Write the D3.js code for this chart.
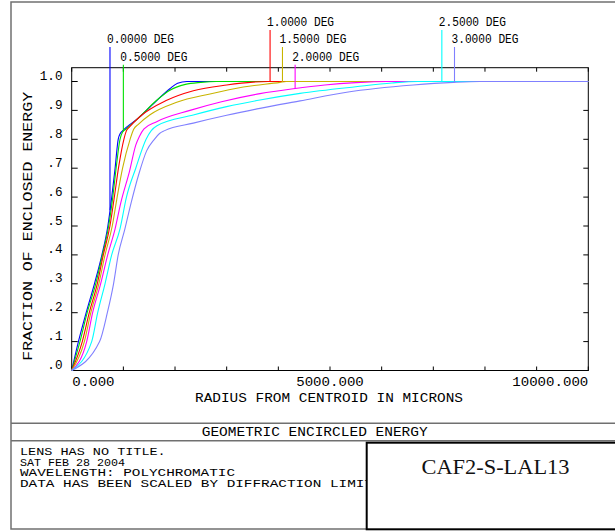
<!DOCTYPE html>
<html>
<head>
<meta charset="utf-8">
<script src="https://cdn.jsdelivr.net/npm/d3@7"></script>
<style>
  html, body { margin: 0; padding: 0; background: #fff; }
  svg { display: block; }
  .mono { font-family: "Liberation Mono", "DejaVu Sans Mono", monospace; fill: #000; }
</style>
</head>
<body>
<div id="chart"></div>
<script>

// field angles and their colours
const fieldNames = ["0.0000 DEG", "0.5000 DEG", "1.0000 DEG", "1.5000 DEG", "2.0000 DEG", "2.5000 DEG", "3.0000 DEG"];
const fieldColors = ["#0000ff", "#00e000", "#ff0000", "#c8b400", "#ff00ff", "#00ffff", "#8080ff"];

// [radius in microns, fraction of enclosed energy]
const deg00 = [[0,0],[130,0.1],[280,0.2],[440,0.3],[585,0.4],[700,0.5],[775,0.6],[840,0.7],[900,0.8],[940,0.82],[990,0.83],[1300,0.875],[1650,0.935],[1900,0.975],[2050,0.994],[2230,1.0],[10000,1.0]];
const deg05 = [[0,0],[160,0.1],[300,0.2],[465,0.3],[595,0.4],[715,0.5],[795,0.6],[860,0.7],[935,0.8],[985,0.825],[1050,0.835],[1300,0.875],[1645,0.935],[1900,0.97],[2200,0.99],[2500,0.997],[2800,1.0],[10000,1.0]];
const deg10 = [[0,0],[205,0.1],[340,0.2],[495,0.3],[612,0.4],[740,0.5],[825,0.6],[905,0.7],[1010,0.8],[1060,0.83],[1120,0.843],[1317,0.878],[1840,0.935],[2355,0.968],[3000,0.988],[3510,0.998],[3800,1.0],[10000,1.0]];
const deg15 = [[0,0],[245,0.1],[370,0.2],[525,0.3],[645,0.4],[785,0.5],[880,0.6],[985,0.7],[1130,0.8],[1200,0.835],[1290,0.852],[1516,0.885],[2033,0.928],[2677,0.957],[3322,0.981],[4032,0.997],[4150,1.0],[10000,1.0]];
const deg20 = [[0,0],[290,0.1],[405,0.2],[560,0.3],[697,0.4],[840,0.49],[950,0.58],[1120,0.69],[1240,0.78],[1310,0.81],[1400,0.836],[1645,0.861],[2290,0.9],[2900,0.93],[3645,0.958],[4290,0.975],[4900,0.988],[5500,0.996],[6100,1.0],[10000,1.0]];
const deg25 = [[0,0],[387,0.1],[503,0.2],[645,0.3],[774,0.4],[935,0.49],[1060,0.6],[1240,0.7],[1440,0.8],[1540,0.83],[1650,0.847],[2354,0.884],[3000,0.913],[3645,0.936],[4420,0.959],[5500,0.982],[6200,0.995],[6700,1.0],[10000,1.0]];
const deg30 = [[0,0],[540,0.1],[690,0.2],[810,0.3],[900,0.4],[1030,0.49],[1150,0.58],[1300,0.68],[1450,0.76],[1600,0.8],[1700,0.82],[1800,0.83],[2354,0.856],[3000,0.883],[3645,0.907],[4420,0.933],[5323,0.963],[6613,0.988],[7387,0.997],[7900,1.0],[10000,1.0]];
const curves = [deg00, deg05, deg10, deg15, deg20, deg25, deg30];

// where each label leader touches its curve, and which label row it sits in
const leaderRadius = [741, 1000, 3840, 4080, 4325, 7165, 7410];
const labelRow = [1, 2, 0, 1, 2, 0, 1];

const yTickValues = [1.0, 0.9, 0.8, 0.7, 0.6, 0.5, 0.4, 0.3, 0.2, 0.1, 0.0];
const yTickLabels = ["1.0", ".9", ".8", ".7", ".6", ".5", ".4", ".3", ".2", ".1", ".0"];
const xTickValues = [0, 1000, 2000, 3000, 4000, 5000, 6000, 7000, 8000, 9000, 10000];
const xLabelValues = [0, 5000, 10000];
const xLabelText = ["0.000", "5000.000", "10000.000"];

const infoLines = ["LENS HAS NO TITLE.", "SAT FEB 28 2004", "WAVELENGTH: POLYCHROMATIC", "DATA HAS BEEN SCALED BY DIFFRACTION LIMIT"];
const infoWidths = [145.7, 105, 215, 353];


const width = 615, height = 531;
const plot = { left: 71.7, right: 588.3, top: 67.7, bottom: 370.5 };

const x = d3.scaleLinear().domain([0, 10000]).range([plot.left, plot.right]);
const y = d3.scaleLinear().domain([0, 1]).range([plot.bottom, 81.5]);

const svg = d3.select("#chart")
  .append("svg")
  .attr("width", width)
  .attr("height", height)
  .attr("viewBox", `0 0 ${width} ${height}`);

function addText(str, tx, ty, len, anchor, size) {
  return svg.append("text")
    .attr("class", "mono")
    .attr("x", tx)
    .attr("y", ty)
    .attr("text-anchor", anchor)
    .attr("font-size", size)
    .attr("textLength", len)
    .attr("lengthAdjust", "spacingAndGlyphs")
    .text(str);
}

// linear lookup of a curve at a given radius
function valueAt(points, r) {
  for (let i = 1; i < points.length; i++) {
    if (r <= points[i][0]) {
      const a = points[i - 1], b = points[i];
      return a[1] + (b[1] - a[1]) * (r - a[0]) / (b[0] - a[0]);
    }
  }
  return points[points.length - 1][1];
}

// outer page frame
svg.append("path")
  .attr("d", `M ${width + 2} 2 H 11 V 529 H ${width + 2}`)
  .attr("fill", "none")
  .attr("stroke", "#707070")
  .attr("stroke-width", 1.5);
svg.append("line")
  .attr("x1", 11).attr("x2", width + 2)
  .attr("y1", 423.3).attr("y2", 423.3)
  .attr("stroke", "#707070").attr("stroke-width", 1.5);
svg.append("line")
  .attr("x1", 11).attr("x2", width + 2)
  .attr("y1", 440.7).attr("y2", 440.7)
  .attr("stroke", "#707070").attr("stroke-width", 1.5);

// plot frame
svg.append("rect")
  .attr("x", plot.left)
  .attr("y", plot.top)
  .attr("width", plot.right - plot.left)
  .attr("height", plot.bottom - plot.top)
  .attr("fill", "none")
  .attr("stroke", "black")
  .attr("stroke-width", 1);

// ticks on all four sides
svg.selectAll(".ytick-l")
  .data(yTickValues)
  .join("line")
  .attr("x1", plot.left).attr("x2", plot.left + 6)
  .attr("y1", d => y(d)).attr("y2", d => y(d))
  .attr("stroke", "black");
svg.selectAll(".ytick-r")
  .data(yTickValues)
  .join("line")
  .attr("x1", plot.right - 5).attr("x2", plot.right)
  .attr("y1", d => y(d)).attr("y2", d => y(d))
  .attr("stroke", "black");
svg.selectAll(".xtick-b")
  .data(xTickValues)
  .join("line")
  .attr("x1", d => x(d)).attr("x2", d => x(d))
  .attr("y1", plot.bottom - 4).attr("y2", plot.bottom)
  .attr("stroke", "black");
svg.selectAll(".xtick-t")
  .data(xTickValues)
  .join("line")
  .attr("x1", d => x(d)).attr("x2", d => x(d))
  .attr("y1", plot.top).attr("y2", plot.top + 4)
  .attr("stroke", "black");

// y tick labels
yTickValues.forEach((v, i) => {
  addText(yTickLabels[i], 62.5, y(v) - 1.5, yTickLabels[i].length * 7.6, "end", 13.5);
});

// x tick labels
const xAnchors = ["start", "middle", "end"];
xLabelValues.forEach((v, i) => {
  addText(xLabelText[i], x(v) + (i === 0 ? 0.6 : 0), 386, xLabelText[i].length * 8.45, xAnchors[i], 12.5);
});

// axis titles
addText("RADIUS FROM CENTROID IN MICRONS", 329, 401.7, 268, "middle", 12.5);
addText("FRACTION OF ENCLOSED ENERGY", 0, 0, 269, "middle", 13.5)
  .attr("transform", "translate(31.5,226.3) rotate(-90)");

// curves
const line = d3.line()
  .x(d => x(d[0]))
  .y(d => y(d[1]))
  .curve(d3.curveMonotoneX);

curves.forEach((c, i) => {
  svg.append("path")
    .attr("d", line(c))
    .attr("fill", "none")
    .attr("stroke", fieldColors[i])
    .attr("stroke-width", 1.1);
});

// field labels with leaders
const rowBaseline = [26, 43, 60.7];
curves.forEach((c, i) => {
  const lx = x(leaderRadius[i]);
  const base = rowBaseline[labelRow[i]];
  svg.append("line")
    .attr("x1", lx).attr("x2", lx)
    .attr("y1", base + 4)
    .attr("y2", y(valueAt(c, leaderRadius[i])))
    .attr("stroke", fieldColors[i])
    .attr("stroke-width", 1.1);
  addText(fieldNames[i], lx - 3, base, 67, "start", 12);
});

// bottom title and info block
addText("GEOMETRIC ENCIRCLED ENERGY", 314.7, 436, 226, "middle", 12);
infoLines.forEach((t, i) => {
  addText(t, 20, 455 + i * 10.55, infoWidths[i], "start", 10.5);
});

// lens name box
svg.append("rect")
  .attr("x", 366.7)
  .attr("y", 442.7)
  .attr("width", width + 2 - 366.7)
  .attr("height", 529.3 - 442.7)
  .attr("fill", "white")
  .attr("stroke", "black")
  .attr("stroke-width", 2);
svg.append("text")
  .attr("x", 495.5)
  .attr("y", 474)
  .attr("text-anchor", "middle")
  .attr("font-family", "'Liberation Serif', 'Times New Roman', serif")
  .attr("font-size", 21)
  .attr("textLength", 148)
  .attr("lengthAdjust", "spacingAndGlyphs")
  .attr("fill", "#111")
  .text("CAF2-S-LAL13");

</script>
</body>
</html>
